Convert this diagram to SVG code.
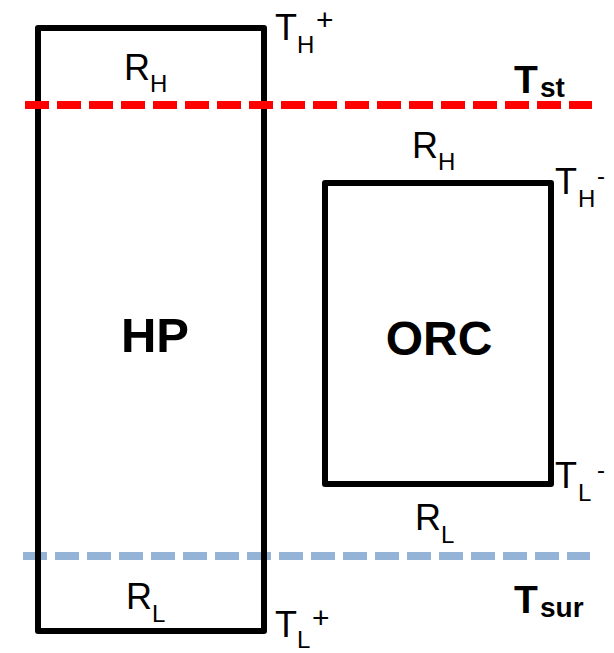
<svg xmlns="http://www.w3.org/2000/svg" width="614" height="653" viewBox="0 0 614 653">
<style>
.box{fill:none;stroke:#000;stroke-width:6;stroke-linejoin:round}
.t{font-family:"Liberation Sans",Arial,sans-serif;fill:#000}
.m{font-size:36px}
.s{font-size:24px}
.p{font-size:30px}
.b{font-weight:bold}
.dash{stroke-width:8;stroke-dasharray:24 8;fill:none}
</style>
<g id="level-sur">
<line class="dash" x1="23" y1="556" x2="590" y2="556" stroke="#95B3D7"/>
</g>
<g id="HP">
<rect class="box" x="38" y="28" width="226" height="603"/>
<text class="t b" x="155" y="352" font-size="49" text-anchor="middle">HP</text>
<text class="t m" x="124" y="80">R</text><text class="t s" x="150" y="92">H</text>
<text class="t m" x="126" y="609">R</text><text class="t s" x="152" y="622">L</text>
<text class="t m" x="275" y="40">T</text><text class="t s" x="297" y="53">H</text><text class="t p" x="316" y="30">+</text>
<text class="t m" x="275" y="637">T</text><text class="t s" x="297" y="648">L</text><text class="t p" x="312" y="628">+</text>
</g>
<g id="ORC">
<rect class="box" x="325" y="183" width="226" height="301"/>
<text class="t b" x="439" y="355" font-size="48" text-anchor="middle">ORC</text>
<text class="t m" x="412" y="158">R</text><text class="t s" x="438" y="170">H</text>
<text class="t m" x="415" y="530">R</text><text class="t s" x="441" y="543">L</text>
<text class="t m" x="555" y="194">T</text><text class="t s" x="578" y="207">H</text><text class="t s" x="597" y="184">-</text>
<text class="t m" x="555" y="488">T</text><text class="t s" x="578" y="501">L</text><text class="t s" x="597" y="478">-</text>
</g>
<g id="level-st">
<line class="dash" x1="25" y1="105" x2="592" y2="105" stroke="#FF0000"/>
</g>
<g id="labels">
<text class="t b" x="514" y="93" font-size="39">T</text><text class="t b" x="540" y="97" font-size="28">st</text>
<text class="t b" x="514" y="613" font-size="39">T</text><text class="t b" x="540" y="617" font-size="28">sur</text>
</g>
</svg>
